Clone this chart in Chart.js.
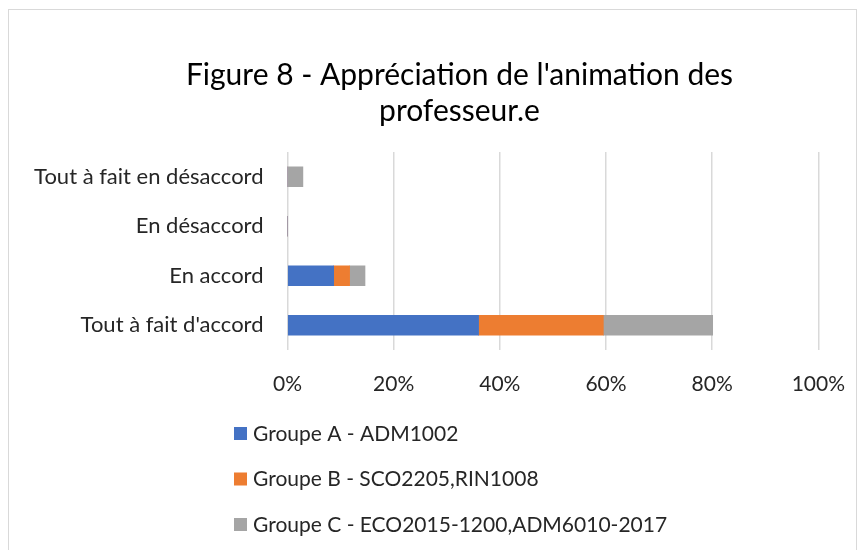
<!DOCTYPE html>
<html>
<head>
<meta charset="utf-8">
<script src="https://cdn.jsdelivr.net/npm/chart.js@4"></script>
<style>
  html, body { margin: 0; padding: 0; background: #ffffff; }
  #wrap { position: relative; width: 867px; height: 550px; }
  #frame { position: absolute; left: 8px; top: 9px; width: 849px; height: 560px; border: 1px solid #d9d9d9; box-sizing: border-box; }
  canvas { position: absolute; left: 0; top: 0; }
</style>
</head>
<body>
<div id="wrap">
  <div id="frame"></div>
  <canvas id="chart" width="867" height="550"></canvas>
</div>
<script>
var categories = ['Tout à fait en désaccord', 'En désaccord', 'En accord', "Tout à fait d'accord"];
var groupA = [0, 0, 8.7, 36.0];
var groupB = [0, 0, 3.0, 23.5];
var groupC = [2.9, 0, 2.9, 20.6];
var seriesNames = ['Groupe A - ADM1002', 'Groupe B - SCO2205,RIN1008', 'Groupe C - ECO2015-1200,ADM6010-2017'];
var xTicks = [0, 20, 40, 60, 80, 100];

var fontName = 'Lato';
var textColor = '#262626';

// legend in one column under the axis, like the Excel chart
var columnLegend = {
    id: 'columnLegend',
    afterLayout: (chart) => {
        // Excel centres the title a bit right of the canvas middle
        var tb = chart.titleBlock;
        if (tb) {
            tb.left = 97;
            tb.right = 822;
            tb.width = tb.right - tb.left;
        }
    },
    afterDraw: (chart) => {
        var ctx = chart.ctx;
        ctx.save();
        ctx.font = '21px ' + fontName;
        ctx.textBaseline = 'middle';
        ctx.textAlign = 'left';
        chart.data.datasets.forEach((ds, i) => {
            var y = 434 + i * 45.5;
            ctx.fillStyle = ds.backgroundColor;
            ctx.fillRect(234, y - 7, 13, 13);
            ctx.fillStyle = textColor;
            ctx.fillText(ds.label, 253, y);
        });
        ctx.restore();
    }
};

var ctx = document.getElementById('chart').getContext('2d');
var chart = new Chart(ctx, {
    type: 'bar',
    data: {
        labels: categories,
        datasets: [{
            label: seriesNames[0],
            data: groupA,
            backgroundColor: '#4472c4',
        }, {
            label: seriesNames[1],
            data: groupB,
            backgroundColor: '#ed7d31',
        }, {
            label: seriesNames[2],
            data: groupC,
            backgroundColor: '#a5a5a5',
        }],
    },
    options: {
        indexAxis: 'y',
        responsive: false,
        animation: false,
        barThickness: 20,
        layout: {
            padding: { left: 10, right: 45, top: 0, bottom: 155 }
        },
        plugins: {
            legend: { display: false },
            tooltip: { enabled: false },
            title: {
                display: true,
                text: ["Figure 8 - Appréciation de l'animation des", 'professeur.e'],
                color: '#000000',
                font: { family: fontName, size: 30, weight: 'normal' },
                padding: { top: 57, bottom: 23 },
                lineHeight: 1.27,
            }
        },
        scales: {
            x: {
                stacked: true,
                min: 0,
                max: 100,
                afterBuildTicks: (axis) => {
                    axis.ticks = xTicks.map(v => ({ value: v }));
                },
                afterFit: (axis) => { axis.height = 45; },
                grid: { color: '#d9d9d9', lineWidth: 1.5, drawTicks: false },
                border: { display: false },
                ticks: {
                    padding: 22,
                    color: textColor,
                    font: { family: fontName, size: 21 },
                    callback: (v) => v + '%',
                }
            },
            y: {
                stacked: true,
                afterFit: (axis) => { axis.width = 277.5; },
                grid: { display: false, drawTicks: false },
                border: { display: false },
                ticks: {
                    padding: 24,
                    color: textColor,
                    font: { family: fontName, size: 22 },
                }
            }
        }
    },
    plugins: [columnLegend]
});
</script>
</body>
</html>
